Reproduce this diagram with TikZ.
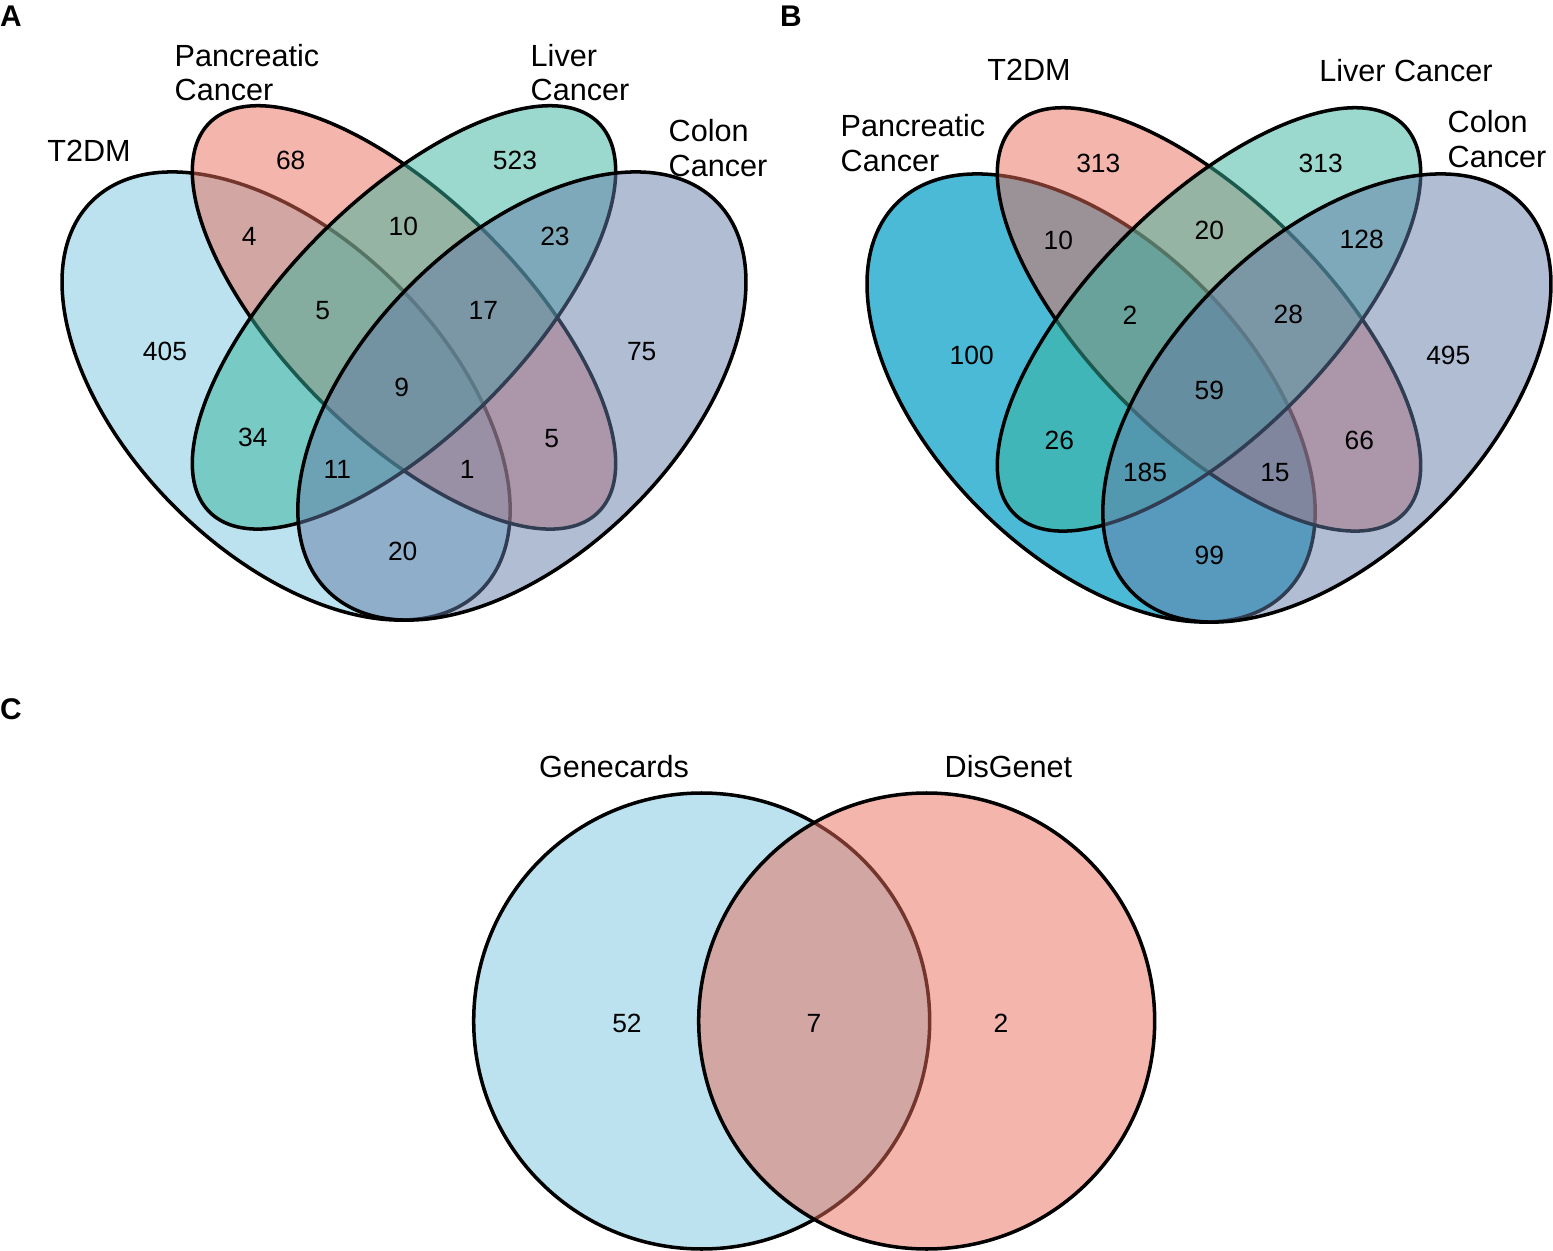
\documentclass[tikz,border=0pt]{standalone}
\usepackage{fontspec}
\setmainfont{Liberation Sans}
\definecolor{cBlue}{HTML}{77C5DD}
\definecolor{cPink}{HTML}{E96B59}
\definecolor{cTeal}{HTML}{37B39D}
\definecolor{cSlate}{HTML}{637BA7}
\definecolor{cCyan}{HTML}{0FA3C8}
\begin{document}
\begin{tikzpicture}[x=0.01cm,y=-0.01cm,
  setA/.style={draw=black, line width=1pt, fill opacity=0.5},
  num/.style={font=\fontsize{7.5}{9}\selectfont, inner sep=0pt},
  lab/.style={font=\fontsize{8.7}{9.8}\selectfont, inner sep=0pt, align=left},
  panel/.style={font=\fontsize{8.5}{10}\selectfont\bfseries, inner sep=0pt}]
\useasboundingbox (0,0) rectangle (1553,1251);

% ---------------- Panel A ----------------
\path[setA, fill=cBlue, rotate around={-45:(286.1,396)}] (286.1,396) ellipse [x radius=275.1, y radius=157.2];
\path[setA, fill=cPink, rotate around={-45:(404,317.4)}] (404,317.4) ellipse [x radius=275.1, y radius=117.9];
\path[setA, fill=cTeal, rotate around={45:(404,317.4)}] (404,317.4) ellipse [x radius=275.1, y radius=117.9];
\path[setA, fill=cSlate, rotate around={45:(521.9,396)}] (521.9,396) ellipse [x radius=275.1, y radius=157.2];

\node[panel] (pA) at (11,16) {A};
\node[lab] (aT2) at (89,151) {T2DM};
\node[lab, anchor=west] (aPan) at (174,72.5) {Pancreatic\\Cancer};
\node[lab, anchor=west] (aLiv) at (530,72.5) {Liver\\Cancer};
\node[lab, anchor=west] (aCol) at (668,148) {Colon\\Cancer};

\node[num] (a68) at (290.7,160) {68};
\node[num] (a523) at (515,160) {523};
\node[num] (a4) at (249.3,236.7) {4};
\node[num] (a10) at (403.3,226.7) {10};
\node[num] (a23) at (555,236.7) {23};
\node[num] (a5l) at (322.7,310.7) {5};
\node[num] (a17) at (483.3,310.7) {17};
\node[num] (a405) at (165,351.7) {405};
\node[num] (a75) at (641.7,351.7) {75};
\node[num] (a9) at (401.7,387.3) {9};
\node[num] (a34) at (252.7,437.3) {34};
\node[num] (a5r) at (551.7,438.3) {5};
\node[num] (a11) at (337.3,469.3) {11};
\node[num] (a1) at (467.3,469.3) {1};
\node[num] (a20) at (402.7,551.7) {20};

% ---------------- Panel B ----------------
\path[setA, fill=cCyan, fill opacity=0.75, rotate around={-45:(1091.1,398)}] (1091.1,398) ellipse [x radius=275.1, y radius=157.2];
\path[setA, fill=cPink, rotate around={-45:(1209,319.4)}] (1209,319.4) ellipse [x radius=275.1, y radius=117.9];
\path[setA, fill=cTeal, rotate around={45:(1209,319.4)}] (1209,319.4) ellipse [x radius=275.1, y radius=117.9];
\path[setA, fill=cSlate, rotate around={45:(1326.9,398)}] (1326.9,398) ellipse [x radius=275.1, y radius=157.2];

\node[panel] (pB) at (791,16) {B};
\node[lab] (bT2) at (1029,70) {T2DM};
\node[lab] (bLiv) at (1406,71) {Liver Cancer};
\node[lab, anchor=west] (bPan) at (840,143) {Pancreatic\\Cancer};
\node[lab, anchor=west] (bCol) at (1447,139) {Colon\\Cancer};

\node[num] (b313a) at (1098.3,163.3) {313};
\node[num] (b313b) at (1320.7,163.3) {313};
\node[num] (b10) at (1058.3,240) {10};
\node[num] (b20) at (1209.3,230) {20};
\node[num] (b128) at (1361.7,239.3) {128};
\node[num] (b2) at (1130,315) {2};
\node[num] (b28) at (1288.3,314) {28};
\node[num] (b100) at (971.7,355) {100};
\node[num] (b495) at (1448.3,355) {495};
\node[num] (b59) at (1209.3,390.7) {59};
\node[num] (b26) at (1059.3,440.7) {26};
\node[num] (b66) at (1359.3,440.7) {66};
\node[num] (b185) at (1145,472.7) {185};
\node[num] (b15) at (1275,472.7) {15};
\node[num] (b99) at (1209.3,555) {99};

% ---------------- Panel C ----------------
\path[setA, fill=cBlue] (701.7,1021) circle [radius=228];
\path[setA, fill=cPink] (926.7,1021) circle [radius=228];

\node[panel] (pC) at (11,709) {C};
\node[lab] (cGen) at (614,767) {Genecards};
\node[lab] (cDis) at (1008.5,767) {DisGenet};
\node[num] (c52) at (627,1023) {52};
\node[num] (c7) at (814,1023) {7};
\node[num] (c2) at (1001,1023) {2};
\end{tikzpicture}
\end{document}
